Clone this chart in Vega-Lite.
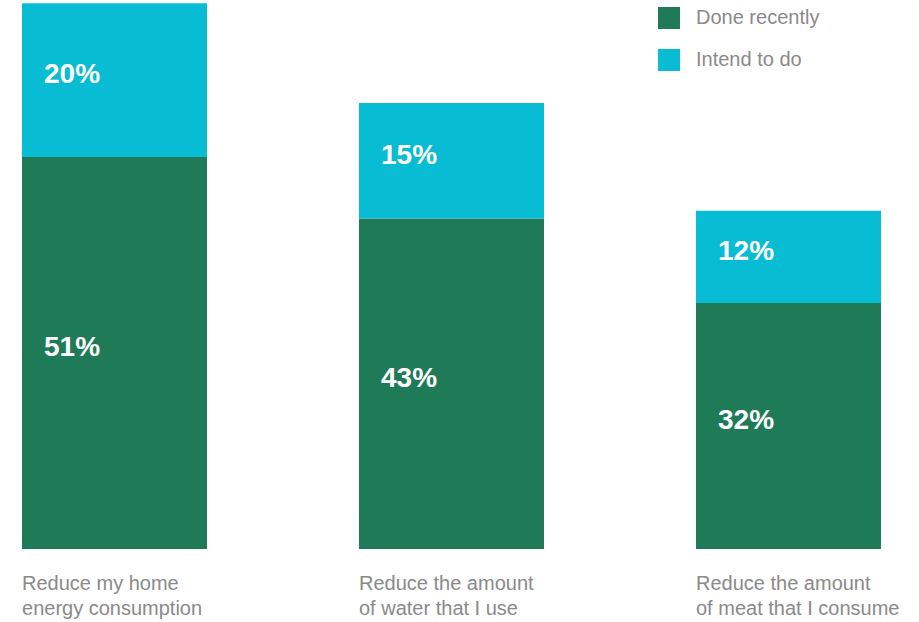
{
  "$schema": "https://vega.github.io/schema/vega-lite/v6.json",
  "width": 903,
  "height": 542,
  "autosize": "none",
  "padding": {"top": 7, "left": 0, "right": 16, "bottom": 73},
  "background": "white",
  "config": {"view": {"stroke": null}, "font": "Liberation Sans"},
  "data": {
    "values": [
      {"category": "Reduce my home|energy consumption", "status": "Done recently", "value": 51},
      {"category": "Reduce my home|energy consumption", "status": "Intend to do", "value": 20},
      {"category": "Reduce the amount|of water that I use", "status": "Done recently", "value": 43},
      {"category": "Reduce the amount|of water that I use", "status": "Intend to do", "value": 15},
      {"category": "Reduce the amount|of meat that I consume", "status": "Done recently", "value": 32},
      {"category": "Reduce the amount|of meat that I consume", "status": "Intend to do", "value": 12}
    ]
  },
  "transform": [
    {"stack": "value", "groupby": ["category"], "sort": [{"field": "status", "order": "ascending"}], "as": ["v0", "v1"]},
    {"calculate": "(datum.v0 + datum.v1) / 2", "as": "mid"},
    {"calculate": "datum.value + '%'", "as": "pct"}
  ],
  "encoding": {
    "x": {
      "field": "category",
      "type": "nominal",
      "sort": null,
      "scale": {"paddingInner": 0.451, "paddingOuter": 0.0653},
      "axis": {
        "title": null,
        "domain": false,
        "ticks": false,
        "labelAngle": 0,
        "labelAlign": "left",
        "labelBaseline": "top",
        "labelOffset": -92.5,
        "labelPadding": 24,
        "labelFontSize": 20,
        "labelColor": "#8a8a8a",
        "labelLineHeight": 25,
        "labelFont": "Liberation Sans",
        "labelOverlap": false,
        "labelBound": false,
        "labelLimit": 0,
        "labelExpr": "split(datum.label, '|')"
      }
    }
  },
  "layer": [
    {
      "mark": {"type": "bar"},
      "encoding": {
        "y": {"field": "v0", "type": "quantitative", "scale": {"domain": [0, 70.5], "nice": false}, "axis": null},
        "y2": {"field": "v1"},
        "color": {
          "field": "status",
          "type": "nominal",
          "scale": {"domain": ["Done recently", "Intend to do"], "range": ["#1E7A57", "#08BCD3"]},
          "legend": {
            "title": null,
            "orient": "none",
            "legendX": 658,
            "legendY": 0,
            "symbolType": "square",
            "symbolSize": 484,
            "symbolStrokeWidth": 0,
            "symbolOpacity": 1,
            "labelFontSize": 20,
            "labelColor": "#8a8a8a",
            "labelFont": "Liberation Sans",
            "labelOffset": 16,
            "rowPadding": 20
          }
        }
      }
    },
    {
      "mark": {"type": "text", "align": "left", "baseline": "middle", "dx": -70.5, "dy": -5, "fontSize": 28, "fontWeight": "bold", "color": "white", "font": "Liberation Sans"},
      "encoding": {
        "y": {"field": "mid", "type": "quantitative"},
        "text": {"field": "pct", "type": "nominal"},
        "detail": {"field": "status"}
      }
    }
  ]
}
